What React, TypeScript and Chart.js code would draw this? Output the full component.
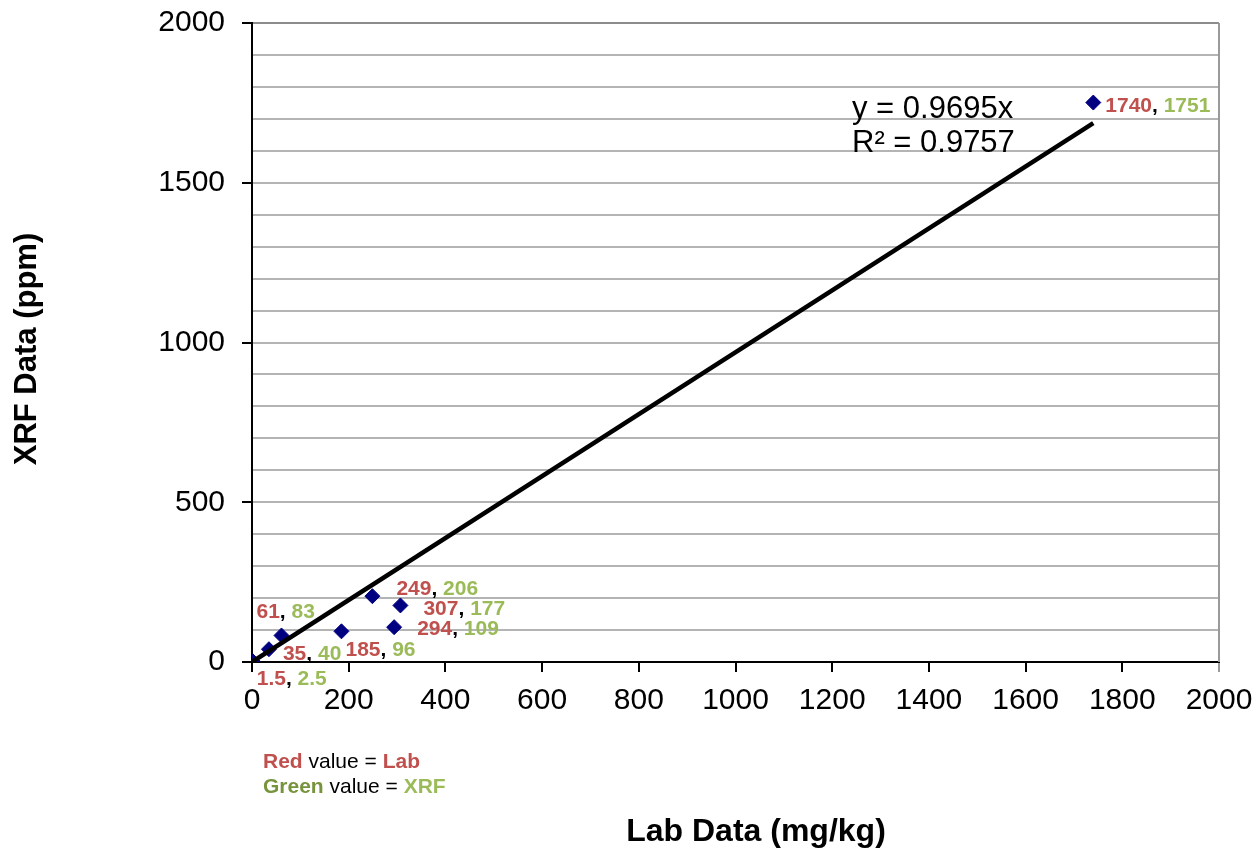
import React, { useEffect, useRef } from "react";
import { Chart, registerables } from "chart.js";

Chart.register(...registerables);

// ---- data ----
const labValues = [1.5, 35, 61, 185, 249, 307, 294, 1740];
const xrfValues = [2.5, 40, 83, 96, 206, 177, 109, 1751];
// label anchor offsets (px) relative to each point
const labelDx = [4, 14, -25, 4, 24, 23, 23, 12];
const labelDy = [24, 11, -17, 25, -1, 10, 8, 9];
const trendSlope = 0.9695;
const rSquared = 0.9757;
const trendXRange = [0, 1740];
const axisMin = 0;
const axisMax = 2000;
const xStep = 200;
const yGridStep = 100;
const yLabelStep = 500;
const xTitle = "Lab Data (mg/kg)";
const yTitle = "XRF Data (ppm)";

const FONT = '"Liberation Sans", Arial, Helvetica, sans-serif';
const RED = "#c0504d";
const GREEN = "#9bbb59";
const DARK_GREEN = "#77933c";

function drawSegments(ctx: CanvasRenderingContext2D, segs: [string, string, string][], x: number, y: number) {
  let cx = x;
  for (const [text, font, color] of segs) {
    ctx.font = font;
    ctx.fillStyle = color;
    ctx.fillText(text, cx, y);
    cx += ctx.measureText(text).width;
  }
}

const annotationPlugin = {
  id: "annotations",
  afterDraw(chart: any) {
    const ctx: CanvasRenderingContext2D = chart.ctx;
    const xs = chart.scales.x;
    const ys = chart.scales.y;
    const area = chart.chartArea;
    ctx.save();

    // right border of plot area
    ctx.strokeStyle = "#9a9a9a";
    ctx.lineWidth = 2;
    ctx.beginPath();
    ctx.moveTo(area.right, area.top);
    ctx.lineTo(area.right, area.bottom);
    ctx.stroke();

    ctx.textAlign = "left";
    ctx.textBaseline = "alphabetic";

    // point labels
    const bold = `bold 21px ${FONT}`;
    labValues.forEach((lab, i) => {
      const px = xs.getPixelForValue(lab) + labelDx[i];
      const py = ys.getPixelForValue(xrfValues[i]) + labelDy[i];
      drawSegments(ctx, [
        [String(lab), bold, RED],
        [", ", bold, "#000"],
        [String(xrfValues[i]), bold, GREEN],
      ], px, py);
    });

    // trendline equation
    ctx.font = `31px ${FONT}`;
    ctx.fillStyle = "#000";
    ctx.fillText(`y = ${trendSlope}x`, 852, 118);
    ctx.fillText(`R² = ${rSquared}`, 852, 152);

    // note
    const nb = `bold 21px ${FONT}`;
    const nn = `21px ${FONT}`;
    drawSegments(ctx, [["Red", nb, RED], [" value = ", nn, "#000"], ["Lab", nb, RED]], 263, 768);
    drawSegments(ctx, [["Green", nb, DARK_GREEN], [" value = ", nn, "#000"], ["XRF", nb, GREEN]], 263, 793);

    // axis titles
    ctx.font = `bold 32px ${FONT}`;
    ctx.fillStyle = "#000";
    ctx.textAlign = "center";
    ctx.fillText(xTitle, 756, 841);
    ctx.font = `bold 31px ${FONT}`;
    ctx.translate(36, 349);
    ctx.rotate(-Math.PI / 2);
    ctx.fillText(yTitle, 0, 0);

    ctx.restore();
  },
};

export default function App() {
  const canvasRef = useRef<HTMLCanvasElement | null>(null);

  useEffect(() => {
    if (!canvasRef.current) return;
    Chart.defaults.font.family = FONT;
    const points = labValues.map((x, i) => ({ x, y: xrfValues[i] }));
    const trend = trendXRange.map((x) => ({ x, y: x * trendSlope }));

    const chart = new Chart(canvasRef.current, {
      type: "scatter",
      data: {
        datasets: [
          {
            label: "Trend",
            data: trend,
            showLine: true,
            borderColor: "#000",
            borderWidth: 4.5,
            pointRadius: 0,
            order: 0,
          },
          {
            label: "Samples",
            data: points,
            pointStyle: "rectRot",
            pointRadius: 7.5,
            backgroundColor: "#000080",
            borderColor: "#000080",
            borderWidth: 1,
            order: 1,
          },
        ],
      },
      options: {
        animation: false,
        responsive: true,
        maintainAspectRatio: false,
        layout: { padding: { top: 23, right: 40, left: 0, bottom: 0 } },
        plugins: { legend: { display: false }, tooltip: { enabled: false } },
        scales: {
          x: {
            type: "linear",
            position: "bottom",
            min: axisMin,
            max: axisMax,
            ticks: {
              stepSize: xStep,
              color: "#000",
              font: { size: 30, family: FONT },
              padding: 11,
              maxRotation: 0,
              autoSkip: false,
              callback: (v: any) => String(v),
            },
            grid: {
              color: (c: any) => (c.tick && c.tick.value === axisMax ? "#9a9a9a" : "rgba(0,0,0,0)"),
              tickColor: (c: any) => (c.tick && c.tick.value === axisMax ? "#9a9a9a" : "#000"),
              lineWidth: 2,
              tickLength: 10,
            },
            border: { color: "#000", width: 2 },
            afterFit: (s: any) => {
              s.height = 187;
              s.paddingLeft = 0;
              s.paddingRight = 0;
            },
          },
          y: {
            type: "linear",
            min: axisMin,
            max: axisMax,
            ticks: {
              stepSize: yGridStep,
              color: "#000",
              font: { size: 30, family: FONT },
              padding: 17,
              autoSkip: false,
              callback: (v: any) => (Number(v) % yLabelStep === 0 ? String(v) : ""),
            },
            grid: {
              color: (c: any) => {
                const v = c.tick ? c.tick.value : -1;
                if (v === axisMin) return "rgba(0,0,0,0)";
                return v === axisMax ? "#8c8c8c" : "#b4b4b4";
              },
              tickColor: (c: any) =>
                c.tick && c.tick.value % yLabelStep === 0 ? "#000" : "rgba(0,0,0,0)",
              lineWidth: 2,
              tickLength: 10,
            },
            border: { color: "#000", width: 2 },
            afterFit: (s: any) => {
              s.width = 252;
              s.paddingTop = 0;
              s.paddingBottom = 0;
            },
          },
        },
      },
      plugins: [annotationPlugin],
    });
    return () => chart.destroy();
  }, []);

  return (
    <div style={{ position: "fixed", left: 0, top: 0, width: 1259, height: 849, background: "#fff" }}>
      <canvas ref={canvasRef} />
    </div>
  );
}
